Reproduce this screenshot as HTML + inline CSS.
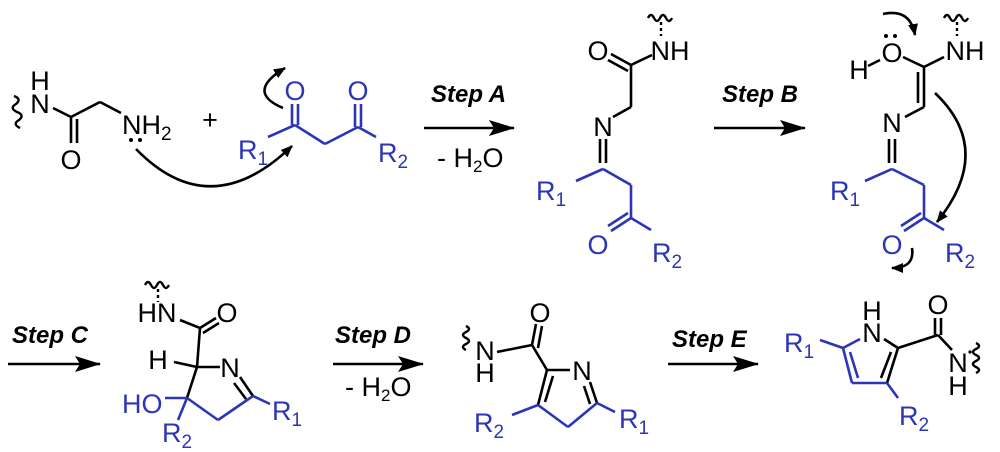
<!DOCTYPE html>
<html><head><meta charset="utf-8"><style>
html,body{margin:0;padding:0;background:#fff}
svg{display:block}
text{font-family:"Liberation Sans",sans-serif;font-size:27px}
.b{fill:#2b35b5}
.st{font-weight:bold;font-style:italic;font-size:24px}
</style></head><body>
<svg width="1000" height="452" viewBox="0 0 1000 452" xmlns="http://www.w3.org/2000/svg">
<defs>
<marker id="ah" markerWidth="12" markerHeight="10" refX="11" refY="5" orient="auto" markerUnits="userSpaceOnUse"><path d="M0,0 L12,5 L0,10 Z" fill="#000"/></marker>
<marker id="bh" markerWidth="26" markerHeight="16" refX="25" refY="8" orient="auto" markerUnits="userSpaceOnUse"><path d="M0,0 L26,8 L0,16 L5,8 Z" fill="#000"/></marker>
</defs>
<g stroke="#000" stroke-width="2.6" fill="none">
<!-- reactant 1 -->
<path d="M14,96 q8,3 2,8 q-7,4 1,8 q8,3 2,8 q-7,4 1,8" stroke-width="2.4"/>
<line x1="53" y1="108" x2="71" y2="117"/>
<line x1="71" y1="117" x2="71" y2="143"/><line x1="77" y1="119" x2="77" y2="143"/>
<line x1="71" y1="117" x2="100" y2="102"/><line x1="100" y1="102" x2="121" y2="113"/>
<path d="M136,149 Q210,225 292,146" marker-end="url(#ah)"/>
<path d="M283,108 Q245,92 285,68" marker-end="url(#ah)"/>
<!-- arrows -->
<line x1="424" y1="128" x2="514" y2="128" marker-end="url(#bh)"/>
<line x1="714" y1="128" x2="805" y2="128" marker-end="url(#bh)"/>
<line x1="8" y1="364" x2="100" y2="364" marker-end="url(#bh)"/>
<line x1="333" y1="364" x2="423" y2="364" marker-end="url(#bh)"/>
<line x1="668" y1="364" x2="758" y2="364" marker-end="url(#bh)"/>
<!-- product A black -->
<path d="M648,18 q3,-6 6,0 q3,6 6,0 q3,-6 6,0 q3,6 6,0" stroke-width="2.4"/>
<line x1="661" y1="22" x2="661" y2="36" stroke-dasharray="3,3" stroke-width="2.4"/>
<line x1="611" y1="54" x2="631" y2="65"/><line x1="608" y1="60" x2="628" y2="71"/>
<line x1="631" y1="65" x2="652" y2="55"/>
<line x1="631" y1="65" x2="631" y2="107"/><line x1="631" y1="107" x2="613" y2="117"/>
<line x1="600" y1="139" x2="600" y2="163"/><line x1="606" y1="139" x2="606" y2="163"/>
<!-- product B black -->
<path d="M944,18 q3,-6 6,0 q3,6 6,0 q3,-6 6,0 q3,6 6,0" stroke-width="2.4"/>
<line x1="957" y1="22" x2="957" y2="36" stroke-dasharray="3,3" stroke-width="2.4"/>
<line x1="868" y1="66" x2="880" y2="60" stroke-width="2.4"/>
<line x1="903" y1="57" x2="924" y2="67"/><line x1="924" y1="67" x2="944" y2="57"/>
<line x1="924" y1="67" x2="924" y2="107"/><line x1="918" y1="72" x2="918" y2="103"/>
<line x1="924" y1="107" x2="905" y2="117"/>
<line x1="889" y1="139" x2="889" y2="163"/><line x1="895" y1="139" x2="895" y2="163"/>
<path d="M883,14 Q910,8 915,35" marker-end="url(#ah)"/>
<path d="M935,93 Q995,150 937,222" marker-end="url(#ah)"/>
<path d="M912,248 Q915,268 892,268" marker-end="url(#ah)"/>
<!-- product C black -->
<path d="M145,285 q3,-6 6,0 q3,6 6,0 q3,-6 6,0 q3,6 6,0" stroke-width="2.4"/>
<line x1="158" y1="289" x2="158" y2="302" stroke-dasharray="3,3" stroke-width="2.4"/>
<line x1="180" y1="320" x2="200" y2="328"/>
<line x1="200" y1="328" x2="216" y2="318"/><line x1="203" y1="333" x2="219" y2="323"/>
<line x1="200" y1="328" x2="197" y2="367"/>
<line x1="174" y1="362" x2="197" y2="367"/>
<line x1="197" y1="367" x2="220" y2="367"/>
<line x1="197" y1="367" x2="187" y2="398"/>
<line x1="240" y1="377" x2="253" y2="396"/><line x1="234" y1="383" x2="246" y2="399"/>
<!-- product D black -->
<path d="M466,326 q6,3 0,6 q-6,3 0,6 q6,3 0,6 q-6,3 0,6" stroke-width="2.4"/>
<line x1="497" y1="352" x2="532" y2="345"/>
<line x1="532" y1="345" x2="536" y2="324"/><line x1="538" y1="348" x2="542" y2="326"/>
<line x1="532" y1="345" x2="547" y2="370"/>
<line x1="547" y1="370" x2="570" y2="370"/>
<line x1="547" y1="370" x2="538" y2="405"/><line x1="553" y1="376" x2="545" y2="402"/>
<line x1="590" y1="382" x2="597" y2="403"/><line x1="584" y1="386" x2="590" y2="404"/>
<!-- product E black -->
<line x1="898" y1="348" x2="884" y2="339"/>
<line x1="898" y1="348" x2="938" y2="335"/>
<line x1="935" y1="335" x2="935" y2="318"/><line x1="941" y1="335" x2="941" y2="318"/>
<line x1="938" y1="335" x2="952" y2="350"/>
<line x1="898" y1="348" x2="887" y2="383"/><line x1="891" y1="352" x2="881" y2="378"/>
<path d="M976,343 q6,3 0,6 q-6,3 0,6 q6,3 0,6 q-6,3 0,6 q6,3 0,6" stroke-width="2.4"/>
</g>
<g stroke="#2b35b5" stroke-width="2.6" fill="none">
<line x1="268" y1="137" x2="295" y2="125"/>
<line x1="292" y1="125" x2="292" y2="104"/><line x1="298" y1="125" x2="298" y2="104"/>
<line x1="295" y1="125" x2="325" y2="144"/><line x1="325" y1="144" x2="358" y2="127"/>
<line x1="355" y1="127" x2="355" y2="104"/><line x1="361" y1="127" x2="361" y2="104"/>
<line x1="358" y1="127" x2="376" y2="137"/>
<line x1="603" y1="169" x2="576" y2="181"/><line x1="603" y1="169" x2="631" y2="185"/>
<line x1="631" y1="185" x2="631" y2="218"/>
<line x1="631" y1="218" x2="611" y2="231"/><line x1="628" y1="213" x2="608" y2="226"/>
<line x1="631" y1="218" x2="651" y2="230"/>
<line x1="892" y1="169" x2="865" y2="181"/><line x1="892" y1="169" x2="924" y2="185"/>
<line x1="924" y1="185" x2="924" y2="218"/>
<line x1="924" y1="218" x2="904" y2="231"/><line x1="921" y1="213" x2="901" y2="226"/>
<line x1="924" y1="218" x2="944" y2="230"/>
<line x1="253" y1="396" x2="270" y2="404"/>
<line x1="253" y1="396" x2="218" y2="420"/><line x1="218" y1="420" x2="187" y2="398"/>
<line x1="187" y1="398" x2="165" y2="398"/>
<line x1="187" y1="398" x2="178" y2="420"/>
<line x1="597" y1="403" x2="615" y2="412"/>
<line x1="597" y1="403" x2="568" y2="427"/><line x1="568" y1="427" x2="538" y2="405"/>
<line x1="538" y1="405" x2="512" y2="415"/>
<line x1="820" y1="340" x2="843" y2="348"/>
<line x1="843" y1="348" x2="860" y2="339"/>
<line x1="843" y1="348" x2="852" y2="383"/><line x1="850" y1="352" x2="858" y2="378"/>
<line x1="852" y1="383" x2="887" y2="383"/>
<line x1="887" y1="383" x2="898" y2="398"/>
</g>
<g>
<text x="40" y="90" text-anchor="middle">H</text>
<text x="40" y="113" text-anchor="middle">N</text>
<text x="71" y="169" text-anchor="middle">O</text>
<text x="122" y="134">NH<tspan font-size="19" dy="6">2</tspan></text>
<circle cx="131" cy="140" r="2"/><circle cx="140" cy="140" r="2"/>
<text x="210" y="129" text-anchor="middle">+</text>
<text x="598" y="60" text-anchor="middle">O</text>
<text x="670" y="60" text-anchor="middle">NH</text>
<text x="603" y="136" text-anchor="middle">N</text>
<text x="859" y="79" text-anchor="middle">H</text>
<text x="892" y="62" text-anchor="middle">O</text>
<circle cx="886" cy="36" r="2"/><circle cx="895" cy="36" r="2"/>
<text x="965" y="60" text-anchor="middle">NH</text>
<text x="892" y="132" text-anchor="middle">N</text>
<text x="157" y="322" text-anchor="middle">HN</text>
<text x="227" y="322" text-anchor="middle">O</text>
<text x="158" y="369" text-anchor="middle">H</text>
<text x="230" y="377" text-anchor="middle">N</text>
<text x="485" y="360" text-anchor="middle">N</text>
<text x="485" y="382" text-anchor="middle">H</text>
<text x="540" y="322" text-anchor="middle">O</text>
<text x="582" y="380" text-anchor="middle">N</text>
<text x="872" y="320" text-anchor="middle">H</text>
<text x="872" y="342" text-anchor="middle">N</text>
<text x="938" y="314" text-anchor="middle">O</text>
<text x="958" y="372" text-anchor="middle">N</text>
<text x="958" y="395" text-anchor="middle">H</text>
<circle cx="970" cy="352" r="1.6"/>
<text class="st" x="431" y="102">Step A</text>
<text x="437" y="167" font-size="24">- H<tspan font-size="17" dy="5">2</tspan><tspan dy="-5">O</tspan></text>
<text class="st" x="722" y="102">Step B</text>
<text class="st" x="12" y="343">Step C</text>
<text class="st" x="335" y="343">Step D</text>
<text x="345" y="396" font-size="24">- H<tspan font-size="17" dy="5">2</tspan><tspan dy="-5">O</tspan></text>
<text class="st" x="672" y="347">Step E</text>
</g>
<g class="b">
<text x="238" y="159">R<tspan font-size="19" dy="6">1</tspan></text>
<text x="295" y="100" text-anchor="middle">O</text>
<text x="358" y="100" text-anchor="middle">O</text>
<text x="378" y="162">R<tspan font-size="19" dy="6">2</tspan></text>
<text x="536" y="200">R<tspan font-size="19" dy="6">1</tspan></text>
<text x="598" y="254" text-anchor="middle">O</text>
<text x="652" y="262">R<tspan font-size="19" dy="6">2</tspan></text>
<text x="830" y="200">R<tspan font-size="19" dy="6">1</tspan></text>
<text x="892" y="254" text-anchor="middle">O</text>
<text x="945" y="262">R<tspan font-size="19" dy="6">2</tspan></text>
<text x="122" y="413">HO</text>
<text x="162" y="442">R<tspan font-size="19" dy="6">2</tspan></text>
<text x="272" y="420">R<tspan font-size="19" dy="6">1</tspan></text>
<text x="474" y="432">R<tspan font-size="19" dy="6">2</tspan></text>
<text x="619" y="428">R<tspan font-size="19" dy="6">1</tspan></text>
<text x="784" y="352">R<tspan font-size="19" dy="6">1</tspan></text>
<text x="899" y="425">R<tspan font-size="19" dy="6">2</tspan></text>
</g>
</svg>
</body></html>
